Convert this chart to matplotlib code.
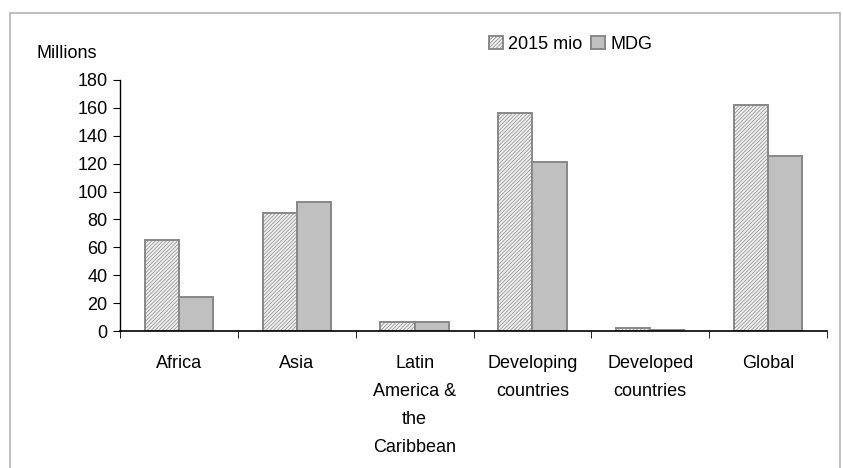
import numpy as np
import matplotlib.pyplot as plt
from matplotlib.patches import Rectangle

plt.rcParams['font.family'] = ['Liberation Sans', 'DejaVu Sans']
plt.rcParams['hatch.color'] = '#a0a0a0'
plt.rcParams['hatch.linewidth'] = 0.5

categories = ["Africa", "Asia", "Latin\nAmerica &\nthe\nCaribbean",
              "Developing\ncountries", "Developed\ncountries", "Global"]
mio_2015 = [65, 84.5, 6.5, 156, 2, 162]
mdg = [24.5, 92.5, 6.5, 121, 1, 125.5]
yticks = [0, 20, 40, 60, 80, 100, 120, 140, 160, 180]

fig = plt.figure(figsize=(8.43, 4.68), dpi=100)
# outer chart frame (bottom edge runs off the picture)
fig.patches.append(Rectangle((10/843, -0.1), 830/843, 1.1 - 13/468, transform=fig.transFigure,
                             fill=False, edgecolor='#b4b4b4', linewidth=1.2))

ax = fig.add_axes([120/843, 1 - 331/468, 707/843, 251/468])
x = np.arange(len(categories))
w = 0.29
ax.bar(x - w/2, mio_2015, w, facecolor='#f0f0f0', edgecolor='#888888', hatch='/////////',
       linewidth=1.4, label='2015 mio')
ax.bar(x + w/2, mdg, w, facecolor='#c0c0c0', edgecolor='#888888', linewidth=1.4, label='MDG')

ax.set_xlim(-0.5, len(categories) - 0.5)
ax.set_ylim(0, 180)
ax.set_yticks(yticks)
ax.set_xticks(x)
ax.set_xticklabels(categories, fontsize=13, linespacing=1.85)
ax.set_xticks(np.arange(len(categories) + 1) - 0.5, minor=True)
ax.tick_params(axis='x', which='major', length=0, pad=17)
ax.tick_params(axis='x', which='minor', length=5, direction='out')
ax.tick_params(axis='y', length=5, direction='out', labelsize=13, pad=4)
for s in ['top', 'right']:
    ax.spines[s].set_visible(False)
ax.spines['left'].set_linewidth(1.0)
ax.spines['bottom'].set_linewidth(1.2)

fig.text(37/843, 1 - 53/468, "Millions", fontsize=13, va='center', ha='left')
ax.legend(loc='upper left', bbox_to_anchor=(480/843, 1 - 27/468), bbox_transform=fig.transFigure,
          ncol=2, frameon=False, fontsize=13, handlelength=0.75, handleheight=0.75,
          handletextpad=0.3, columnspacing=0.5, borderpad=0)

fig.savefig('out.png', dpi=100)
